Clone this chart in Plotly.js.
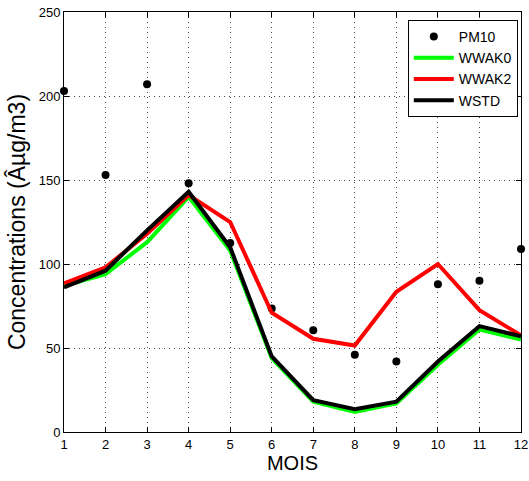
<!DOCTYPE html>
<html>
<head>
<meta charset="utf-8">
<script src="https://cdn.plot.ly/plotly-3.0.1.min.js"></script>
<style>html,body{margin:0;padding:0;background:#fff;}</style>
</head>
<body>
<div id="chart" style="width:529px;height:481px;"></div>
<script>
const months = [1,2,3,4,5,6,7,8,9,10,11,12];
const pm10  = [203,153,207,148,112.5,73.5,60.5,46,42,88,90,109];
const wwak0 = [87,94,113,140,108,44,18,12,17,40,61,55];
const wwak2 = [88.5,98,118,141,125,71,55.5,51.5,83.5,100,72.5,57.5];
const wstd  = [86,96,120,143,110,45,19,13.5,18,42,63,57];
const names = ['PM10','WWAK0','WWAK2','WSTD'];

const traces = [
  {x: months, y: pm10, name: names[0], mode: 'markers', type: 'scatter',
   marker: {color: '#000', size: 8}, cliponaxis: false},
  {x: months, y: wwak0, name: names[1], mode: 'lines', type: 'scatter',
   line: {color: '#00ff00', width: 4}},
  {x: months, y: wwak2, name: names[2], mode: 'lines', type: 'scatter',
   line: {color: '#ff0000', width: 4}},
  {x: months, y: wstd, name: names[3], mode: 'lines', type: 'scatter',
   line: {color: '#000000', width: 4}}
];

const FONT = 'Liberation Sans, Arial, sans-serif';
const axisCommon = {
  showline: true, linecolor: '#000', linewidth: 1, mirror: 'ticks',
  ticks: 'inside', ticklen: 5, tickcolor: '#000',
  showgrid: true, gridcolor: '#444', griddash: '1px,4px', gridwidth: 1,
  zeroline: false,
  tickfont: {family: FONT, size: 13, color: '#000'}
};

const layout = {
  width: 529, height: 481,
  margin: {l: 64, r: 8, t: 12, b: 49},
  paper_bgcolor: '#fff', plot_bgcolor: '#fff',
  showlegend: true,
  legend: {
    x: 0.993, y: 0.981, xanchor: 'right', yanchor: 'top',
    bgcolor: '#fff', bordercolor: '#000', borderwidth: 1,
    font: {family: FONT, size: 14, color: '#000'},
    tracegroupgap: 0, itemwidth: 40
  },
  xaxis: Object.assign({}, axisCommon, {
    range: [1, 12], tickvals: months, ticktext: months.map(String),
    title: {text: 'MOIS', font: {family: FONT, size: 20, color: '#000'}, standoff: 4}
  }),
  yaxis: Object.assign({}, axisCommon, {
    range: [0, 250], tickvals: [0,50,100,150,200,250],
    title: {text: 'Concentrations (Âµg/m3)', font: {family: FONT, size: 23, color: '#000'}, standoff: 6}
  })
};

Plotly.newPlot('chart', traces, layout, {displayModeBar: false, staticPlot: true});
</script>
</body>
</html>
